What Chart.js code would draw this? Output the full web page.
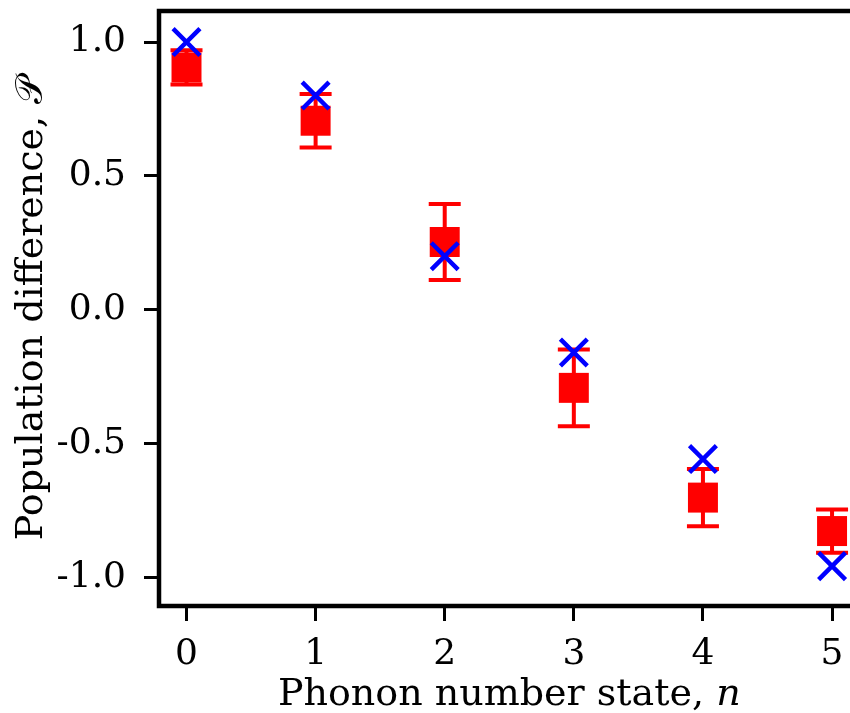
<!DOCTYPE html>
<html>
<head>
<meta charset="utf-8">
<script src="https://cdn.jsdelivr.net/npm/chart.js@4/dist/chart.umd.min.js"></script>
<style>
  html, body { margin: 0; padding: 0; background: #fff; overflow: hidden; }
  #wrap { width: 850px; height: 713px; }
</style>
</head>
<body>
<div id="wrap"><canvas id="myChart" width="850" height="713"></canvas></div>
<script>
// phonon number states
const phononStates = [0, 1, 2, 3, 4, 5];
// measured population difference (red squares) and its error
const measured = [0.905, 0.706, 0.253, -0.292, -0.702, -0.827];
const measuredErr = [0.064, 0.10, 0.142, 0.143, 0.107, 0.081];
// expected values (blue crosses)
const expected = [1.0, 0.8, 0.2, -0.16, -0.558, -0.958];

const xTicks = [0, 1, 2, 3, 4, 5];
const xTickLabels = ["0", "1", "2", "3", "4", "5"];
const yTicks = [1.0, 0.5, 0.0, -0.5, -1.0];
const yTickLabels = ["1.0", "0.5", "0.0", "-0.5", "-1.0"];

const fontFamily = "'DejaVu Serif', serif";
const fontSize = 36;
const titleSize = 38;

const errorBars = {
  id: "errorBars",
  beforeDatasetsDraw(chart) {
    const ctx = chart.ctx;
    const x = chart.scales.x;
    const y = chart.scales.y;
    ctx.save();
    ctx.strokeStyle = "#ff0000";
    ctx.lineWidth = 4;
    for (let i = 0; i < phononStates.length; i++) {
      const px = x.getPixelForValue(phononStates[i]);
      const top = y.getPixelForValue(measured[i] + measuredErr[i]);
      const bot = y.getPixelForValue(measured[i] - measuredErr[i]);
      ctx.beginPath();
      ctx.moveTo(px, top);
      ctx.lineTo(px, bot);
      ctx.moveTo(px - 16, top);
      ctx.lineTo(px + 16, top);
      ctx.moveTo(px - 16, bot);
      ctx.lineTo(px + 16, bot);
      ctx.stroke();
    }
    ctx.restore();
  },
};

const frameAndTitles = {
  id: "frameAndTitles",
  afterDatasetsDraw(chart) {
    // left, top and bottom spines; the axes run on past the right edge
    const ctx = chart.ctx;
    const { left, top, right, bottom } = chart.chartArea;
    ctx.save();
    ctx.strokeStyle = "#000";
    ctx.lineWidth = 4.5;
    ctx.beginPath();
    ctx.moveTo(right + 10, top);
    ctx.lineTo(left, top);
    ctx.lineTo(left, bottom);
    ctx.lineTo(right + 10, bottom);
    ctx.stroke();
    ctx.restore();
  },
  afterDraw(chart) {
    const ctx = chart.ctx;
    const { top, bottom } = chart.chartArea;
    const x = chart.scales.x;
    ctx.save();
    ctx.fillStyle = "#000";
    ctx.textBaseline = "alphabetic";

    // x title with italic n, centred on the full axis span
    const normal = `${titleSize}px ${fontFamily}`;
    const italic = `italic ${titleSize}px ${fontFamily}`;
    const part1 = "Phonon number state, ";
    const part2 = "n";
    ctx.font = normal;
    const w1 = ctx.measureText(part1).width;
    ctx.font = italic;
    const w2 = ctx.measureText(part2).width;
    const mid = x.getPixelForValue(2.5);
    const sx = mid - (w1 + w2) / 2;
    ctx.font = normal;
    ctx.fillText(part1, sx, 705);
    ctx.font = italic;
    ctx.fillText(part2, sx + w1, 705);

    // y title
    ctx.translate(42, (top + bottom) / 2);
    ctx.rotate(-Math.PI / 2);
    ctx.font = normal;
    ctx.textAlign = "center";
    ctx.fillText("Population difference, \u{1D4AB}", 0, 0);
    ctx.restore();
  },
};

const config = {
  type: "scatter",
  data: {
    datasets: [
      {
        label: "expected",
        data: phononStates.map((n, i) => ({ x: n, y: expected[i] })),
        pointStyle: "crossRot",
        pointRadius: 19,
        pointHoverRadius: 19,
        borderColor: "#0000ff",
        pointBorderWidth: 4.5,
        order: 0,
      },
      {
        label: "measured",
        data: phononStates.map((n, i) => ({ x: n, y: measured[i] })),
        pointStyle: "rect",
        pointRadius: 21.2,
        pointHoverRadius: 21.2,
        backgroundColor: "#ff0000",
        borderColor: "#ff0000",
        pointBorderWidth: 0,
        order: 1,
      },
    ],
  },
  options: {
    responsive: false,
    animation: false,
    devicePixelRatio: 1,
    layout: { autoPadding: false, padding: { top: 11, right: 0, left: 0, bottom: 0 } },
    plugins: { legend: { display: false }, tooltip: { enabled: false } },
    scales: {
      x: {
        type: "linear",
        min: -0.213,
        max: 5.139,
        afterFit(scale) {
          scale.height = 713 - 606;
          scale.paddingLeft = 0;
          scale.paddingRight = 0;
        },
        afterBuildTicks(scale) { scale.ticks = xTicks.map((v) => ({ value: v })); },
        border: { display: false },
        grid: { drawOnChartArea: false, tickLength: 15, tickWidth: 3, tickColor: "#000" },
        ticks: {
          padding: 12,
          maxRotation: 0,
          color: "#000",
          font: { family: fontFamily, size: fontSize },
          callback: (v, i) => xTickLabels[i],
        },
      },
      y: {
        type: "linear",
        min: -1.107,
        max: 1.116,
        afterFit(scale) {
          scale.width = 159;
          scale.paddingTop = 0;
          scale.paddingBottom = 0;
        },
        afterBuildTicks(scale) { scale.ticks = yTicks.map((v) => ({ value: v })); },
        border: { display: false },
        grid: { drawOnChartArea: false, tickLength: 15, tickWidth: 3, tickColor: "#000" },
        ticks: {
          padding: 18,
          color: "#000",
          font: { family: fontFamily, size: fontSize },
          callback: (v, i) => yTickLabels[i],
        },
      },
    },
  },
  plugins: [errorBars, frameAndTitles],
};

const myChart = new Chart(document.getElementById("myChart"), config);
</script>
</body>
</html>
